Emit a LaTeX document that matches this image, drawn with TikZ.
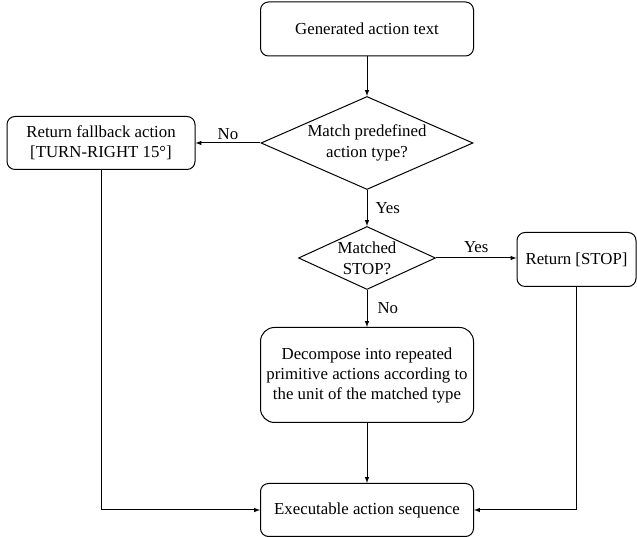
\documentclass[tikz,border=0pt]{standalone}
\usepackage{fontspec}
\setmainfont{Liberation Serif}
\usepackage{tikz}
\usetikzlibrary{arrows, positioning, shapes.geometric}

\begin{document}
\begin{tikzpicture}[x=1pt,y=1pt,node distance=114pt,>=latex,line width=1pt]
 \tikzstyle{stepbox}=[rectangle,rounded corners=8pt,draw=black,
   minimum width=213pt,minimum height=54pt,align=center,
   font=\fontsize{16.8}{20}\selectfont]
 \tikzstyle{decision}=[diamond,draw=black,inner sep=0pt,aspect=2.28,
   minimum width=212pt,minimum height=93pt,align=center,
   font=\fontsize{16.8}{21}\selectfont]
 \tikzstyle{tag}=[font=\fontsize{16.8}{20}\selectfont,inner sep=2pt]
 \useasboundingbox (0,0) rectangle (637,537);
 \node (gen) [stepbox] at (367,508) {Generated action text};
 \node (match) [decision,below of=gen]
   {Match predefined\\action type?};
 \node (isstop) [decision,below of=match,node distance=115pt,
   aspect=2.17,minimum width=137pt,minimum height=63pt]
   {Matched\\STOP?};
 \node (decomp) [stepbox,below of=isstop,node distance=117pt,
   minimum height=95pt,rounded corners=14pt]
   {Decompose into repeated\\primitive actions according to\\the unit of the matched type};
 \node (exec) [stepbox,below of=decomp,node distance=135pt,minimum height=53pt]
   {Executable action sequence};
 \node (fallback) [stepbox,left of=match,node distance=266pt,
   minimum width=188pt,minimum height=53pt]
   {Return fallback action\\{}[TURN-RIGHT 15°]};
 \node (ret) [stepbox,right of=isstop,node distance=209.5pt,yshift=-1.5pt,
   minimum width=119pt,minimum height=54pt]
   {Return [STOP]};
 \draw[->] (gen) -- (match);
 \draw[->] (match) -- node[tag,midway,above=1pt] {No} (fallback);
 \draw[->] (match) -- node[tag,midway,right=6pt] {Yes} (isstop);
 \draw[->] (isstop.east) -- node[tag,midway,above=3pt] {Yes} (ret.west |- isstop.east);
 \draw[->] (isstop) -- node[tag,midway,right=8pt] {No} (decomp);
 \draw[->] (decomp) -- (exec);
 \draw[->] (fallback.south) |- (exec.west);
 \draw[->] (ret.south) |- (exec.east);
\end{tikzpicture}
\end{document}
